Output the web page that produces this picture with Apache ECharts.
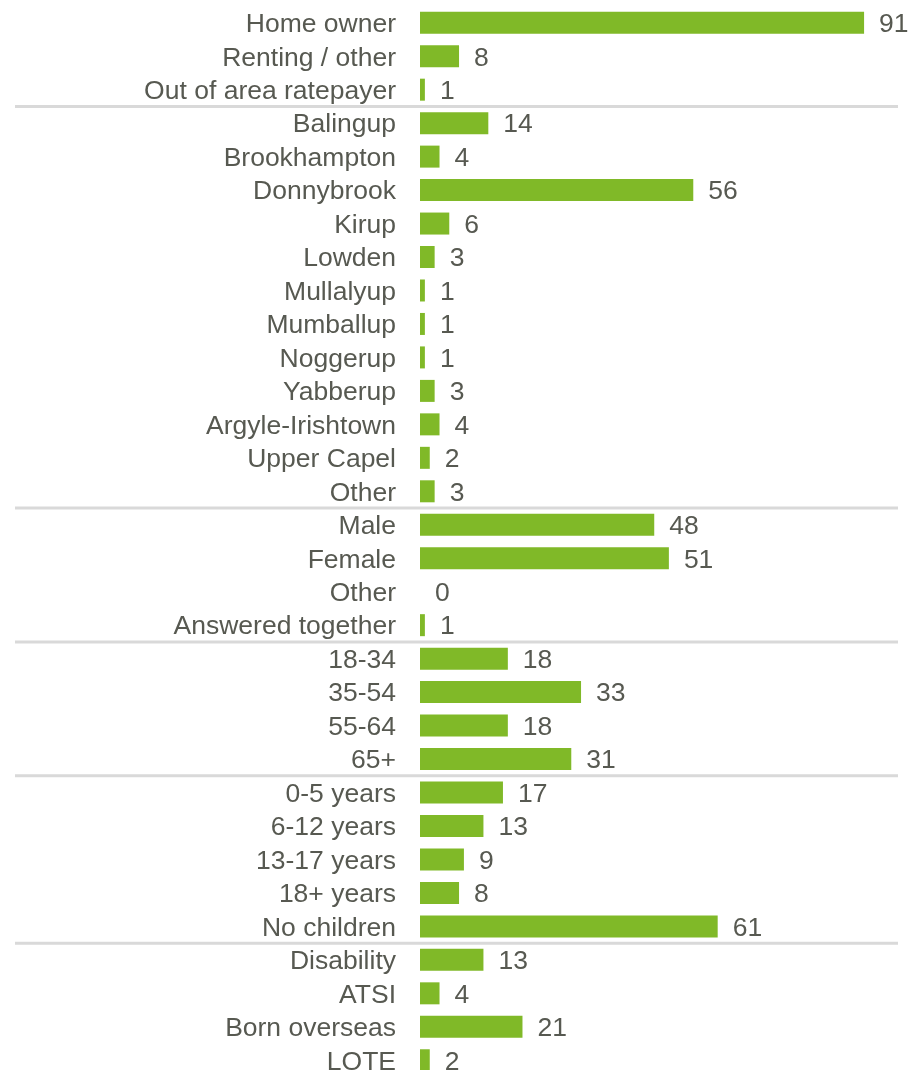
<!DOCTYPE html>
<html>
<head>
<meta charset="utf-8">
<script src="https://cdn.jsdelivr.net/npm/echarts@6/dist/echarts.min.js"></script>
<style>
html,body{margin:0;padding:0;background:#fff;}
#c{width:908px;height:1070px;}
</style>
</head>
<body>
<div id="c"></div>
<script>
const categories = [
  "Home owner","Renting / other","Out of area ratepayer",
  "Balingup","Brookhampton","Donnybrook","Kirup","Lowden","Mullalyup","Mumballup","Noggerup","Yabberup","Argyle-Irishtown","Upper Capel","Other",
  "Male","Female","Other ","Answered together",
  "18-34","35-54","55-64","65+",
  "0-5 years","6-12 years","13-17 years","18+ years","No children",
  "Disability","ATSI","Born overseas","LOTE"
];
const values = [
  91, 8, 1,
  14, 4, 56, 6, 3, 1, 1, 1, 3, 4, 2, 3,
  48, 51, 0, 1,
  18, 33, 18, 31,
  17, 13, 9, 8, 61,
  13, 4, 21, 2
];
// index of last category in each group (separator drawn below it)
const groupEnds = [2, 14, 18, 22, 27];

const FONT = '"Liberation Sans", Arial, sans-serif';
const TEXT = '#575951';
const chart = echarts.init(document.getElementById('c'), null, {renderer: 'canvas'});
chart.setOption({
  animation: false,
  backgroundColor: '#ffffff',
  grid: {left: 420, top: 6, width: 488, height: 1071, containLabel: false, outerBoundsMode: 'none'},
  xAxis: {
    type: 'value', min: 0, max: 100, show: false
  },
  yAxis: {
    type: 'category', data: categories, inverse: true,
    axisLine: {show: false}, axisTick: {show: false}, splitLine: {show: false},
    axisLabel: {
      interval: 0,
      color: TEXT, fontSize: 26.5, fontFamily: FONT, margin: 24,
      formatter: v => '{a|' + v.trim() + '}',
      rich: {a: {color: TEXT, fontSize: 26.5, fontFamily: FONT, padding: [4, 0, 0, 0]}}
    }
  },
  series: [{
    type: 'bar', data: values, barWidth: 22,
    itemStyle: {color: '#80b928'},
    label: {
      show: true, position: 'right', distance: 15, offset: [0, 2],
      color: TEXT, fontSize: 26.5, fontFamily: FONT
    }
  }]
});

function drawSeparators() {
  const lines = groupEnds.map(i => {
    const y1 = chart.convertToPixel({yAxisIndex: 0}, categories[i]);
    const y2 = chart.convertToPixel({yAxisIndex: 0}, categories[i + 1]);
    const y = (y1 + y2) / 2;
    return {
      type: 'line', z: 10,
      shape: {x1: 15, y1: y, x2: 898, y2: y},
      style: {stroke: '#d9d9d9', lineWidth: 3}
    };
  });
  chart.setOption({graphic: lines});
}
drawSeparators();
</script>
</body>
</html>
